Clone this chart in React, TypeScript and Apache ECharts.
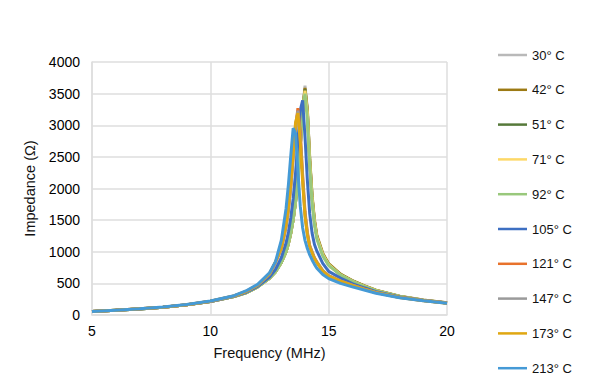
import React, { useEffect, useRef } from "react";
import * as echarts from "echarts";

const freqMHz = [5, 6, 7, 8, 9, 10, 11, 11.5, 12, 12.5, 12.75, 13, 13.2, 13.3, 13.4, 13.5, 13.6, 13.7, 13.8, 13.9, 14.0, 14.1, 14.2, 14.3, 14.4, 14.5, 14.75, 15, 15.5, 16, 16.5, 17, 18, 19, 20];

const z30 = [55, 75, 95, 122, 160, 212, 292, 350, 445, 580, 680, 830, 1000, 1130, 1295, 1505, 1785, 2165, 2668, 3239, 3625, 3250, 2450, 1860, 1480, 1240, 960, 800, 640, 540, 460, 390, 295, 235, 192];
const z42 = [55, 75, 95, 122, 160, 212, 292, 350, 445, 580, 680, 830, 1000, 1130, 1295, 1505, 1785, 2165, 2668, 3225, 3590, 3240, 2480, 1890, 1505, 1260, 975, 812, 648, 545, 463, 392, 296, 236, 193];
const z51 = [55, 75, 95, 122, 160, 212, 292, 350, 445, 580, 680, 830, 1000, 1130, 1295, 1505, 1785, 2165, 2668, 3215, 3565, 3210, 2440, 1855, 1478, 1238, 958, 798, 638, 538, 458, 388, 294, 234, 191];
const z71 = [55, 75, 95, 122, 160, 212, 292, 350, 445, 580, 680, 830, 1000, 1130, 1295, 1505, 1785, 2165, 2668, 3220, 3545, 3200, 2435, 1850, 1475, 1235, 955, 796, 636, 536, 456, 387, 293, 233, 191];
const z92 = [55, 75, 95, 122, 160, 212, 292, 350, 445, 580, 682, 832, 1003, 1135, 1300, 1512, 1795, 2180, 2690, 3250, 3500, 3100, 2350, 1790, 1430, 1200, 935, 785, 630, 532, 454, 385, 292, 233, 191];
const z105 = [56, 76, 96, 123, 161, 214, 295, 356, 452, 600, 720, 905, 1138, 1312, 1538, 1839, 2241, 2745, 3235, 3395, 2818, 2130, 1598, 1295, 1115, 1013, 816, 690, 585, 495, 430, 370, 285, 230, 190];
const z121 = [56, 76, 97, 124, 163, 218, 300, 370, 470, 645, 830, 1043, 1401, 1667, 2031, 2500, 2950, 3270, 2900, 2220, 1640, 1310, 1100, 1000, 905, 840, 703, 622, 541, 471, 411, 356, 279, 229, 188];
const z147 = [56, 76, 97, 124, 163, 218, 300, 370, 470, 645, 830, 1043, 1401, 1667, 2031, 2500, 3000, 3230, 2810, 2161, 1593, 1284, 1086, 991, 897, 835, 700, 620, 540, 470, 410, 355, 278, 228, 188];
const z173 = [56, 76, 97, 124, 163, 219, 302, 372, 475, 652, 840, 1060, 1425, 1700, 2075, 2540, 3040, 3190, 2740, 2110, 1560, 1265, 1075, 982, 890, 828, 695, 616, 537, 468, 408, 354, 277, 227, 187];
const z213 = [57, 77, 98, 126, 165, 222, 305, 380, 485, 668, 840, 1182, 1684, 2064, 2525, 2955, 2870, 2275, 1720, 1380, 1180, 1050, 950, 870, 800, 740, 640, 575, 500, 445, 395, 345, 272, 224, 185];

const seriesNames = ["30° C", "42° C", "51° C", "71° C", "92° C", "105° C", "121° C", "147° C", "173° C", "213° C"];
const seriesValues = [z30, z42, z51, z71, z92, z105, z121, z147, z173, z213];
const seriesColors = ["#b9b9b9", "#9c7a14", "#56793a", "#fdd868", "#99c87c", "#3d6fc2", "#e8722c", "#9a9a9a", "#e0a712", "#459ad6"];

const yTicks = { min: 0, max: 4000, interval: 500 };
const xTicks = { min: 5, max: 20, interval: 5 };

const FONT = "'Liberation Sans', Arial, Helvetica, sans-serif";

export default function App() {
  const ref = useRef<HTMLDivElement>(null);
  useEffect(() => {
    if (!ref.current) return;
    const chart = echarts.init(ref.current, undefined, { renderer: "svg" });
    const gridColor = "#dedede";
    chart.setOption({
      animation: false,
      backgroundColor: "#ffffff",
      textStyle: { fontFamily: FONT },
      grid: { left: 92, right: 153, top: 62, bottom: 77 },
      legend: {
        orient: "vertical",
        left: 493,
        top: 42,
        icon: "rect",
        itemWidth: 29,
        itemHeight: 2.5,
        itemGap: 18.8,
        data: seriesNames,
        textStyle: { fontSize: 13, color: "#111", fontFamily: FONT, lineHeight: 16 },
      },
      xAxis: {
        type: "value",
        min: xTicks.min,
        max: xTicks.max,
        interval: xTicks.interval,
        name: "Frequency (MHz)",
        nameLocation: "middle",
        nameGap: 30,
        nameTextStyle: { fontSize: 14.5, color: "#111", fontFamily: FONT },
        axisLine: { show: true, lineStyle: { color: gridColor, width: 1.5 } },
        axisTick: { show: false },
        axisLabel: { fontSize: 14, color: "#000", margin: 9, fontFamily: FONT, formatter: (v: number) => String(v) },
        splitLine: { show: true, lineStyle: { color: gridColor, width: 1.5 } },
      },
      yAxis: {
        type: "value",
        min: yTicks.min,
        max: yTicks.max,
        interval: yTicks.interval,
        name: "Impedance (Ω)",
        nameLocation: "middle",
        nameGap: 40,
        nameTextStyle: { fontSize: 14.5, color: "#111", fontFamily: FONT },
        axisLine: { show: true, lineStyle: { color: gridColor, width: 1.5 } },
        axisTick: { show: false },
        axisLabel: { fontSize: 14, color: "#000", margin: 12, fontFamily: FONT, formatter: (v: number) => String(v) },
        splitLine: { show: true, lineStyle: { color: gridColor, width: 1.5 } },
      },
      series: seriesNames.map((name, i) => ({
        name,
        type: "line",
        symbol: "none",
        smooth: false,
        color: seriesColors[i],
        lineStyle: { width: 3, color: seriesColors[i] },
        data: freqMHz.map((f, j) => [f, seriesValues[i][j]]),
      })),
    });
    return () => chart.dispose();
  }, []);
  return (
    <div
      ref={ref}
      style={{ position: "fixed", left: 0, top: 0, width: 600, height: 392, background: "#fff" }}
    />
  );
}
